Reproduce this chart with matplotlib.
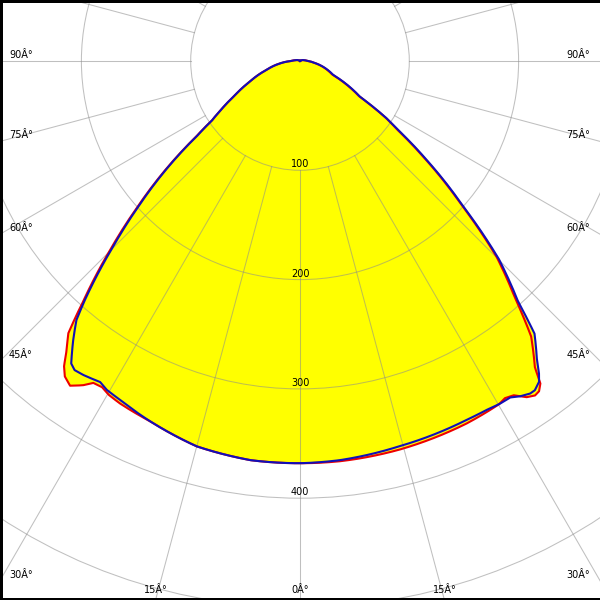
import numpy as np
import matplotlib
matplotlib.use("Agg")
import matplotlib.pyplot as plt
from matplotlib.patches import Circle

# luminous intensity (cd) against gamma (deg)
# red = C0/C180 plane, blue = C90/C270 plane; "left" is drawn to the left of nadir
red_left_gamma = [0, 7, 15, 22.6, 27.7, 29.8, 31.3, 32.7, 33.8, 35.3, 36.7, 37.7, 38.9, 40.4,
                  42, 45.2, 48, 52.7, 54, 56, 58.5, 62, 67.5, 75, 83.4, 90, 100, 120, 180]
red_left_cd = [368, 368, 365, 357, 354, 352, 349, 350, 357, 364, 360, 353, 340, 327,
               297, 244, 201, 135, 117, 97, 84, 68, 50, 32, 18, 8, 4, 1, 0]

red_right_gamma = [0, 5.7, 14.4, 24.7, 30.1, 31.3, 32.6, 34, 35.1, 35.9, 36.7, 37.1, 37.5, 40,
                   42.2, 45.1, 48.3, 52, 54.7, 56.5, 59.2, 67.2, 82, 90, 100, 120, 180]
red_right_cd = [368, 368, 367, 365, 363, 361, 363, 371, 374, 373, 368, 360, 353, 329,
                293, 254, 198, 145, 110, 94, 63, 32, 14, 7, 4, 1, 0]

blue_left_gamma = [0, 7, 15, 22.6, 28, 30.4, 31.9, 34.6, 36.1, 37.1, 39.1, 40.8, 42, 45.2,
                   48, 52.7, 54, 56, 58.5, 62, 67.5, 75, 83.4, 90, 100, 120, 180]
blue_left_cd = [368, 368, 365, 357, 351, 349, 346, 349, 350, 347, 329, 313, 294, 241,
                199, 134, 116, 97, 84, 68, 50, 32, 18, 8, 4, 1, 0]

blue_right_gamma = [0, 5.7, 14.5, 24.9, 28.1, 30.3, 32, 33.3, 34.7, 35.5, 36.7, 37.4, 38.4, 40.7,
                    42.2, 45.1, 48.3, 52, 54.7, 56.5, 59.2, 67.2, 82, 90, 100, 120, 180]
blue_right_cd = [368, 367, 364, 362, 362, 363, 363, 367, 370, 370, 366, 360, 349, 329,
                 297, 257, 200, 147, 112, 95, 64, 33, 14, 7, 4, 1, 0]

ring_values = [100, 200, 300, 400, 500, 600]
ring_labels = ["100", "200", "300", "400"]
angle_ticks = [0, 15, 30, 45, 60, 75, 90]

# layout: pixels per cd and where the lamp sits in the 600x600 picture
PX = 1.093
W, H = 600, 600
CX, CY = 300, 61

GRID = "#8c8c8c"
RED = "#ee0000"
BLUE = "#1010b8"
YELLOW = "#ffff00"


def to_xy(gamma, cd, side):
    # segments run straight in (gamma, cd), the way a polar diagram draws them
    g = np.asarray(gamma, dtype=float)
    c = np.asarray(cd, dtype=float)
    gg = np.union1d(np.arange(0, 180.01, 0.25), g)
    cc = np.interp(gg, g, c)
    rad = np.radians(gg)
    return side * cc * np.sin(rad), -cc * np.cos(rad)


def plane(lg, lc, rg, rc):
    lx, ly = to_xy(lg, lc, -1)
    rx, ry = to_xy(rg, rc, 1)
    return np.concatenate([lx[::-1], rx]), np.concatenate([ly[::-1], ry])


fig = plt.figure(figsize=(6, 6), dpi=100)
fig.patch.set_facecolor("white")
ax = fig.add_axes([0, 0, 1, 1])
xmax = (W - CX) / PX
ymin, ymax = -(H - CY) / PX, CY / PX
ax.set_xlim(-CX / PX, xmax)
ax.set_ylim(ymin, ymax)
ax.set_xticks([])
ax.set_yticks([])

rx_, ry_ = plane(red_left_gamma, red_left_cd, red_right_gamma, red_right_cd)
bx_, by_ = plane(blue_left_gamma, blue_left_cd, blue_right_gamma, blue_right_cd)
ax.fill(rx_, ry_, color=YELLOW, lw=0, zorder=1)
ax.fill(bx_, by_, color=YELLOW, lw=0, zorder=1)

# grid: rings and spokes every 15 deg, spokes start at the first ring
for r in ring_values:
    ax.add_patch(Circle((0, 0), r, fill=False, ec=GRID, lw=0.75, alpha=0.55, zorder=2))
for a in range(0, 360, 15):
    g = np.radians(a)
    ax.plot([100 * np.sin(g), 900 * np.sin(g)], [-100 * np.cos(g), -900 * np.cos(g)],
            color=GRID, lw=0.75, alpha=0.55, zorder=2)

ax.plot(rx_, ry_, color=RED, lw=1.5, zorder=3, solid_joinstyle="round")
ax.plot(bx_, by_, color=BLUE, lw=1.5, zorder=4, solid_joinstyle="round")

for v, lab in zip(ring_values, ring_labels):
    ax.annotate(lab, xy=(0, -v), xytext=(0, 3), textcoords="offset pixels",
                ha="center", va="baseline", fontsize=7, zorder=5)

# angle labels where each spoke leaves the frame
for a in angle_ticks:
    g = np.radians(a)
    for side in (-1, 1):
        if a == 0 and side == 1:
            continue
        s, c = np.sin(g), np.cos(g)
        t_side = xmax / s if s > 1e-9 else np.inf
        t_bot = -ymin / c if c > 1e-9 else np.inf
        if t_side <= t_bot:
            x, y = side * xmax, -t_side * c
            ha = "left" if side < 0 else "right"
            off = (9 if side < 0 else -10, 3)
        else:
            x, y = side * t_bot * s, ymin
            ha = "center"
            off = (0, 7)
        ax.annotate(f"{a}Â°", xy=(x, y), xytext=off, textcoords="offset pixels",
                    ha=ha, va="baseline", fontsize=7, zorder=5, annotation_clip=False)

for sp in ("left", "top", "bottom"):
    ax.spines[sp].set_linewidth(3.6)
    ax.spines[sp].set_color("black")
ax.spines["right"].set_visible(False)

fig.savefig("out.png", dpi=100, facecolor="white")
